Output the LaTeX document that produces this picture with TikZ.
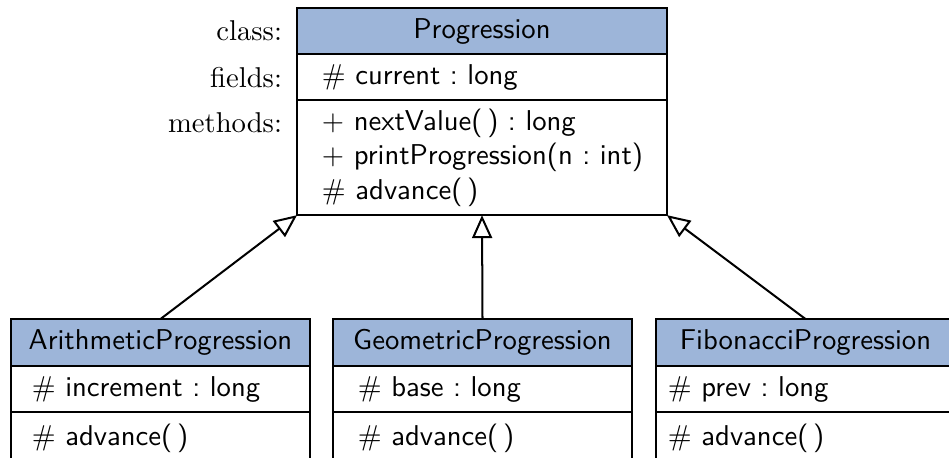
\documentclass[tikz,border=0pt]{standalone}
\usepackage{amsmath}
\usepackage{amssymb}
\usetikzlibrary{positioning,arrows.meta}
\definecolor{hdrblue}{RGB}{157,181,217}

\begin{document}
\begin{tikzpicture}[x=0.349pt,y=-0.349pt,line width=0.7pt,
    classhead/.style={draw,fill=hdrblue,anchor=north,inner sep=0pt,outer sep=0pt,font=\sffamily},
    compart/.style={draw,align=left,inner ysep=2pt,outer sep=0pt,font=\sffamily},
    rowlabel/.style={inner sep=0pt,anchor=east},
    inherits/.style={-{Triangle[open,length=8pt,width=7pt]}}]

            \useasboundingbox (0,0) rectangle (949,457);
            \clip (0,0) rectangle (949,457);

            \node[classhead,minimum width=129.1pt,minimum height=16.1pt] (prog) at (482,8) {Progression};
            \node[compart,below=0pt of prog,minimum height=16.1pt,text width=111.7pt,inner xsep=8.7pt] (progf) {$\#$~current~:~long};
            \node[compart,below=0pt of progf,minimum height=40.1pt,text width=111.7pt,inner xsep=8.7pt] (progm)
                {\mbox{$+$~nextValue(\,)~:~long}\\ \mbox{$+$~printProgression(n~:~int)}\\ \mbox{$\#$~advance(\,)}};

            \node[rowlabel] (lclass) at ([xshift=-4.9pt]prog.west) {class:};
            \node[rowlabel] (lfields) at ([xshift=-4.9pt]progf.west) {fields:};
            \node[rowlabel] (lmethods) at ([xshift=-4.9pt,yshift=-8pt]progm.north west) {methods:};

            \node[classhead,minimum width=104.4pt,minimum height=16.4pt] (arith) at (160.5,319) {ArithmeticProgression};
            \node[compart,below=0pt of arith,minimum height=16.1pt,text width=89.8pt,inner xsep=7.3pt] (arithf) {$\#$~increment~:~long};
            \node[compart,below=0pt of arithf,minimum height=18pt,text width=89.8pt,inner xsep=7.3pt] (arithm) {$\#$~advance(\,)};

            \node[classhead,minimum width=104.4pt,minimum height=16.4pt] (geo) at (482.5,319) {GeometricProgression};
            \node[compart,below=0pt of geo,minimum height=16.1pt,text width=87pt,inner xsep=8.7pt] (geof) {$\#$~base~:~long};
            \node[compart,below=0pt of geof,minimum height=18pt,text width=87pt,inner xsep=8.7pt] (geom) {$\#$~advance(\,)};

            \node[classhead,minimum width=104.4pt,minimum height=16.4pt] (fib) at (805.5,319) {FibonacciProgression};
            \node[compart,below=0pt of fib,minimum height=16.1pt,text width=96pt,inner xsep=4.2pt] (fibf) {$\#$~prev~:~long};
            \node[compart,below=0pt of fibf,minimum height=18pt,text width=96pt,inner xsep=4.2pt] (fibm) {$\#$~advance(\,)};

            \draw[inherits] (arith.north) -- (progm.south west);
            \draw[inherits] (geo.north) -- (progm.south);
            \draw[inherits] (fib.north) -- (progm.south east);

\end{tikzpicture}
\end{document}
